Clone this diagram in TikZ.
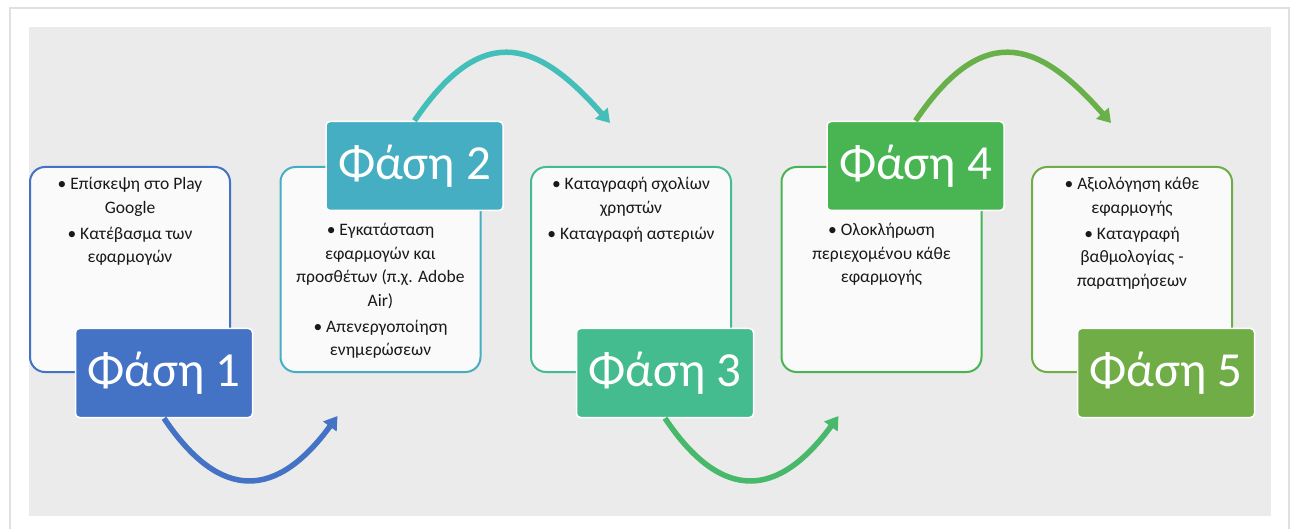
\documentclass[tikz,border=0pt]{standalone}
\usepackage{fontspec}
\setmainfont{Carlito}
\usepackage{tikz}
\usetikzlibrary{positioning,arrows.meta,calc}
\definecolor{ph1}{HTML}{4472C4}
\definecolor{ph2}{HTML}{46AEC2}
\definecolor{ph3}{HTML}{45BC8F}
\definecolor{ph4}{HTML}{48B552}
\definecolor{ph5}{HTML}{70AD47}
\definecolor{ar1}{HTML}{4472C4}
\definecolor{ar2}{HTML}{43BEB8}
\definecolor{ar3}{HTML}{48B86B}
\definecolor{ar4}{HTML}{68B04A}
\definecolor{panel}{HTML}{EBEBEB}

\begin{document}
\begin{tikzpicture}[
    x=1pt, y=1pt, node distance=48.5pt,
    box/.style={draw=#1, line width=2pt, rounded corners=15pt, fill=white!98!black,
      minimum width=200pt, minimum height=205pt},
    phase/.style={fill=#1, draw=white, line width=1.5pt, rounded corners=4pt, text=white,
      minimum width=177pt, minimum height=89pt, inner sep=0pt,
      font=\fontsize{49}{56}\selectfont},
    txt/.style={align=center, inner sep=0pt, text=black!90,
      font=\fontsize{17.5}{23.5}\selectfont},
    arr/.style={draw=#1, line width=5.5pt, -{Triangle[length=13pt,width=16pt]}}]
  \useasboundingbox (0,0) rectangle (1293,528);
  \draw[black!12, line width=2pt, fill=white] (10,-5) rectangle (1289,520);
  \fill[panel] (29,12) rectangle (1271,501);
  \node[box=ph1] (b1) at (130,258.5) {};
  \node[box=ph2, right=of b1] (b2) {};
  \node[box=ph3, right=of b2] (b3) {};
  \node[box=ph4, right=of b3] (b4) {};
  \node[box=ph5, right=of b4] (b5) {};
  \node[txt, below=11pt of b1.north] (t1) {\textbullet{} Επίσκεψη στο Play\\ Google\\[2.5pt]
    \textbullet{} Κατέβασμα των\\ εφαρμογών};
  \node[txt, below=57pt of b2.north] (t2) {\textbullet{} Εγκατάσταση\\ εφαρμογών και\\
    προσθέτων (π.χ. Adobe\\ Air)\\[2.5pt] \textbullet{} Απενεργοποίηση\\ ενημερώσεων};
  \node[txt, below=11pt of b3.north] (t3) {\textbullet{} Καταγραφή σχολίων\\ χρηστών\\[2.5pt]
    \textbullet{} Καταγραφή αστεριών};
  \node[txt, below=57pt of b4.north] (t4) {\textbullet{} Ολοκλήρωση\\ περιεχομένου κάθε\\ εφαρμογής};
  \node[txt, below=11pt of b5.north] (t5) {\textbullet{} Αξιολόγηση κάθε\\ εφαρμογής\\[2.5pt]
    \textbullet{} Καταγραφή\\ βαθμολογίας -\\ παρατηρήσεων};
  \node[phase=ph1] (l1) at ([xshift=34pt]b1.south) {Φάση 1};
  \node[phase=ph2] (l2) at ([xshift=34pt]b2.north) {Φάση 2};
  \node[phase=ph3] (l3) at ([xshift=34pt]b3.south) {Φάση 3};
  \node[phase=ph4] (l4) at ([xshift=34pt]b4.north) {Φάση 4};
  \node[phase=ph5] (l5) at ([xshift=34pt]b5.south) {Φάση 5};
  \coordinate (e1) at ([shift={(58,-43)}]b2.south west);
  \coordinate (e2) at ([shift={(80,43)}]b3.north west);
  \coordinate (e3) at ([shift={(58,-43)}]b4.south west);
  \coordinate (e4) at ([shift={(80,43)}]b5.north west);
  \draw[arr=ar1] (l1.south) .. controls +(57,-85) and +(-60,-82) .. (e1);
  \draw[arr=ar2] (l2.north) .. controls +(71,105) and +(-68,77) .. (e2);
  \draw[arr=ar3] (l3.south) .. controls +(57,-85) and +(-60,-82) .. (e3);
  \draw[arr=ar4] (l4.north) .. controls +(71,105) and +(-68,77) .. (e4);
\end{tikzpicture}
\end{document}
